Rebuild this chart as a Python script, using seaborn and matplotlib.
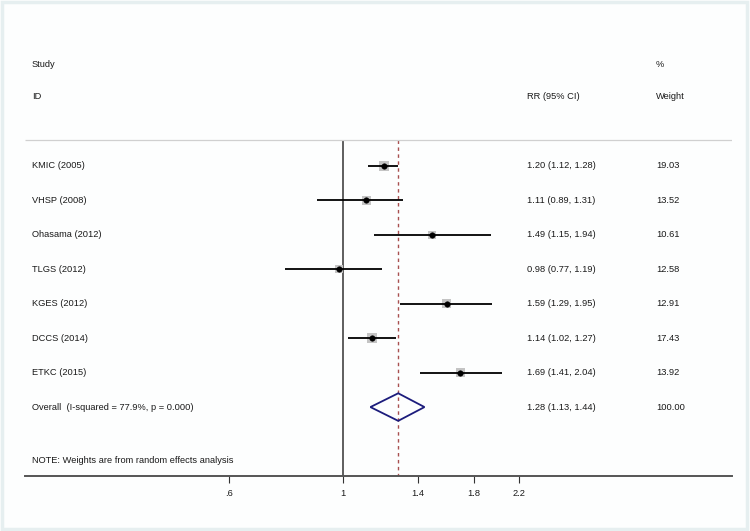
import numpy as np
import pandas as pd
import matplotlib
matplotlib.use("Agg")
import matplotlib.pyplot as plt
import seaborn as sns

studies = ["KMIC (2005)", "VHSP (2008)", "Ohasama (2012)", "TLGS (2012)",
           "KGES (2012)", "DCCS (2014)", "ETKC (2015)"]
rr = [1.20, 1.11, 1.49, 0.98, 1.59, 1.14, 1.69]
lo = [1.12, 0.89, 1.15, 0.77, 1.29, 1.02, 1.41]
hi = [1.28, 1.31, 1.94, 1.19, 1.95, 1.27, 2.04]
weight = [19.03, 13.52, 10.61, 12.58, 12.91, 17.43, 13.92]
overall = (1.28, 1.13, 1.44)
overall_label = "Overall  (I-squared = 77.9%, p = 0.000)"
xticks = [0.6, 1, 1.4, 1.8, 2.2]
xtick_labels = [".6", "1", "1.4", "1.8", "2.2"]

df = pd.DataFrame({"study": studies, "rr": rr, "lo": lo, "hi": hi,
                   "weight": weight, "row": range(len(studies))})

sns.set_style("white")
plt.rcParams["font.family"] = ["Liberation Sans", "DejaVu Sans"]

fig = plt.figure(figsize=(7.5, 5.31), dpi=100)
fig.patch.set_facecolor("#fdfefe")
ax = fig.add_axes([25 / 750, 55 / 531, 707 / 750, 456 / 531])
ax.set_facecolor("#fdfefe")

xmin, xmax = 0.240, 5.72
ax.set_xscale("log")
ax.set_xlim(xmin, xmax)
ax.set_ylim(9, -4.23)

# weight squares
sns.scatterplot(data=df, x="rr", y="row", size="weight", sizes=(30, 55),
                marker="s", color="#c4c4c4", edgecolor="none",
                legend=False, ax=ax, zorder=2)
# CI lines and point estimates
ax.hlines(df["row"], df["lo"], df["hi"], color="black", lw=1.3, zorder=3)
sns.scatterplot(data=df, x="rr", y="row", marker="o", s=16, color="black",
                edgecolor="black", legend=False, ax=ax, zorder=4)

# overall diamond
est, olo, ohi = overall
yo = 7
ax.fill([olo, est, ohi, est, olo], [yo, yo - 0.4, yo, yo + 0.4, yo],
        facecolor="none", edgecolor="#1c1c7c", lw=1.3, zorder=4)

# reference lines
ax.vlines(1, -0.75, 9, color="#333333", lw=1.1, zorder=1)
ax.vlines(est, -0.75, 9, color="#a85050", lw=1.0, linestyles=(0, (2.5, 2.5)), zorder=1)
ax.hlines(-0.75, xmin, xmax, color="#d0d0d0", lw=0.9)

# text columns (positions in pixel space converted to log-x data)
fs = 6.7
tc = "#1a1a1a"
px = lambda p: xmin * np.exp((p - 25) / 223)
xs_lbl, xs_rr, xs_w = px(32), px(527), px(656)
ax.text(xs_lbl, -2.95, "Study", fontsize=fs, va="center", color=tc)
ax.text(xs_lbl, -2.0, "ID", fontsize=fs, va="center", color=tc)
ax.text(xs_rr, -2.0, "RR (95% CI)", fontsize=fs, va="center", color=tc)
ax.text(xs_w, -2.95, "%", fontsize=fs, va="center", color=tc)
ax.text(xs_w, -2.0, "Weight", fontsize=fs, va="center", color=tc)
for i, r in df.iterrows():
    ax.text(xs_lbl, r["row"], r["study"], fontsize=fs, va="center", color=tc)
    ax.text(xs_rr, r["row"], f"{r['rr']:.2f} ({r['lo']:.2f}, {r['hi']:.2f})",
            fontsize=fs, va="center", color=tc)
    ax.text(xs_w, r["row"], f"{r['weight']:.2f}", fontsize=fs, va="center", color=tc)
ax.text(xs_lbl, yo, overall_label, fontsize=fs, va="center", color=tc)
ax.text(xs_rr, yo, f"{est:.2f} ({olo:.2f}, {ohi:.2f})", fontsize=fs, va="center", color=tc)
ax.text(xs_w, yo, "100.00", fontsize=fs, va="center", color=tc)
ax.text(xs_lbl, 8.55, "NOTE: Weights are from random effects analysis",
        fontsize=fs, va="center", color=tc)

# axis
for s in ["top", "right", "left"]:
    ax.spines[s].set_visible(False)
ax.spines["bottom"].set_color("#555555")
ax.spines["bottom"].set_linewidth(1.4)
ax.set_yticks([])
ax.set_xticks(xticks)
ax.set_xticklabels(xtick_labels, fontsize=fs, color=tc)
ax.xaxis.set_minor_locator(matplotlib.ticker.NullLocator())
ax.tick_params(axis="x", direction="out", length=5, width=0.8, color="#333333",
               pad=4, bottom=True)
ax.set_xlabel("")
ax.set_ylabel("")

# light frame around the figure
fig.add_artist(plt.Rectangle((0.002, 0.004), 0.994, 0.993, transform=fig.transFigure,
                             fill=False, edgecolor="#e6eff0", lw=2.5))

fig.savefig("out.png", dpi=100, facecolor=fig.get_facecolor())
